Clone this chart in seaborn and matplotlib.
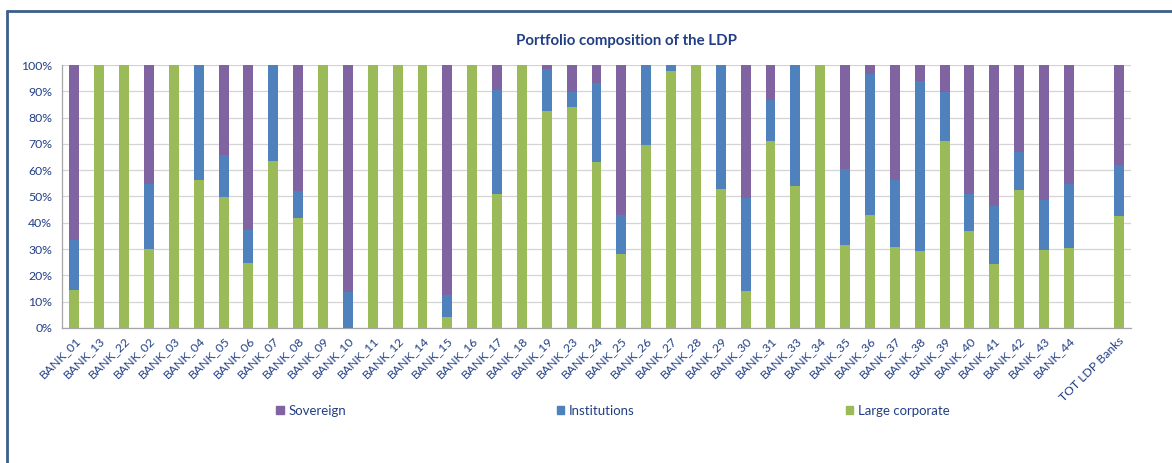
import matplotlib
matplotlib.use("Agg")
import matplotlib.pyplot as plt
import matplotlib.ticker as mticker
from matplotlib.lines import Line2D
from matplotlib.patches import Patch
import numpy as np
import pandas as pd
import seaborn as sns

banks = ["BANK_01", "BANK_13", "BANK_22", "BANK_02", "BANK_03", "BANK_04", "BANK_05",
         "BANK_06", "BANK_07", "BANK_08", "BANK_09", "BANK_10", "BANK_11", "BANK_12",
         "BANK_14", "BANK_15", "BANK_16", "BANK_17", "BANK_18", "BANK_19", "BANK_23",
         "BANK_24", "BANK_25", "BANK_26", "BANK_27", "BANK_28", "BANK_29", "BANK_30",
         "BANK_31", "BANK_33", "BANK_34", "BANK_35", "BANK_36", "BANK_37", "BANK_38",
         "BANK_39", "BANK_40", "BANK_41", "BANK_42", "BANK_43", "BANK_44", " ",
         "TOT LDP Banks"]

# shares in % (blank slot before the total is NaN)
large_corporate = [14.3, 100, 100, 30.1, 100, 56.3, 49.9, 24.8, 63.5, 41.9, 100, 0.0, 100,
                   100, 100, 4.1, 100, 51.0, 100, 82.5, 83.9, 63.0, 28.2, 69.7, 97.7, 100,
                   53.0, 14.2, 71.1, 54.1, 100, 31.4, 42.8, 30.9, 29.1, 71.1, 37.0, 24.4,
                   52.5, 29.6, 30.5, np.nan, 42.7]
institutions = [19.0, 0, 0, 24.5, 0, 43.7, 15.9, 12.3, 36.5, 10.3, 0, 13.8, 0,
                0, 0, 8.6, 0, 39.5, 0, 15.9, 6.0, 30.0, 14.6, 30.3, 2.3, 0,
                47.0, 35.2, 15.6, 45.9, 0, 29.1, 53.9, 25.3, 64.7, 18.8, 14.0, 21.8,
                14.3, 19.1, 24.1, np.nan, 19.3]
sovereign = [66.7, 0, 0, 45.4, 0, 0, 34.2, 62.9, 0, 47.8, 0, 86.2, 0,
             0, 0, 87.3, 0, 9.5, 0, 1.6, 10.1, 7.0, 57.2, 0, 0, 0,
             0, 50.6, 13.3, 0, 0, 39.5, 3.3, 43.8, 6.2, 10.1, 49.0, 53.8,
             33.2, 51.3, 45.4, np.nan, 38.0]

c_sov = "#8064A2"
c_inst = "#4F81BD"
c_lc = "#9BBB59"
navy = "#223F85"

df = pd.DataFrame({"bank": banks, "lc": large_corporate,
                   "inst": institutions, "sov": sovereign})
df["lc_top"] = df["lc"] / 100
df["inst_top"] = (df["lc"] + df["inst"]) / 100
df["sov_top"] = (df["lc"] + df["inst"] + df["sov"]) / 100

sns.set_style("white")
plt.rcParams["font.family"] = ["Lato", "DejaVu Sans"]

fig = plt.figure(figsize=(11.72, 4.63), dpi=100)
ax = fig.add_axes([62 / 1172, 1 - 328 / 463, (1131 - 62) / 1172, (328 - 65) / 463])

for col, color in [("sov_top", c_sov), ("inst_top", c_inst), ("lc_top", c_lc)]:
    sns.barplot(data=df, x="bank", y=col, order=banks, color=color, width=0.4,
                saturation=1, edgecolor="none", linewidth=0, ax=ax, zorder=3)

ax.set_xlim(-0.5, len(banks) - 0.5)
ax.set_ylim(0, 1)
ax.yaxis.set_major_locator(mticker.MultipleLocator(0.1))
ax.yaxis.set_major_formatter(mticker.PercentFormatter(1.0, decimals=0))
ax.grid(axis="y", color="#D4D4D4", linewidth=0.9, zorder=0)
ax.set_axisbelow(True)
ax.set_xlabel("")
ax.set_ylabel("")

for s in ["top", "right"]:
    ax.spines[s].set_visible(False)
for s in ["left", "bottom"]:
    ax.spines[s].set_color("#A6A6A6")
    ax.spines[s].set_linewidth(0.9)

ax.tick_params(axis="y", length=4, color="#A6A6A6", labelsize=8.8, labelcolor=navy, pad=3)
ax.set_xticks(np.arange(len(banks)))
ax.set_xticklabels(banks, rotation=45, ha="right", rotation_mode="anchor",
                   fontsize=8.8, color=navy)
ax.tick_params(axis="x", length=0, pad=5)
ax.set_xticks(np.arange(len(banks) + 1) - 0.5, minor=True)
ax.tick_params(axis="x", which="minor", length=4, color="#A6A6A6")

fig.text(626 / 1172, 1 - 41 / 463, "Portfolio composition of the LDP", ha="center",
         va="center", fontsize=10.8, fontweight="bold", color=navy)

handles = [Patch(color=c_sov, label="Sovereign"),
           Patch(color=c_inst, label="Institutions"),
           Patch(color=c_lc, label="Large corporate")]
fig.legend(handles=handles, loc="center", bbox_to_anchor=(613 / 1172, 1 - 411 / 463),
           ncol=3, frameon=False, fontsize=9.5, handlelength=0.55, handleheight=0.55,
           handletextpad=0.35, columnspacing=16, labelcolor=navy)

# chart frame (top and left edges visible)
frame = "#3A5F88"
fig.add_artist(Line2D([7 / 1172, 1], [1 - 10.5 / 463] * 2, color=frame, lw=2,
                      transform=fig.transFigure))
fig.add_artist(Line2D([7 / 1172] * 2, [0, 1 - 10.5 / 463], color=frame, lw=2,
                      transform=fig.transFigure))

fig.savefig("out.png", dpi=100)
